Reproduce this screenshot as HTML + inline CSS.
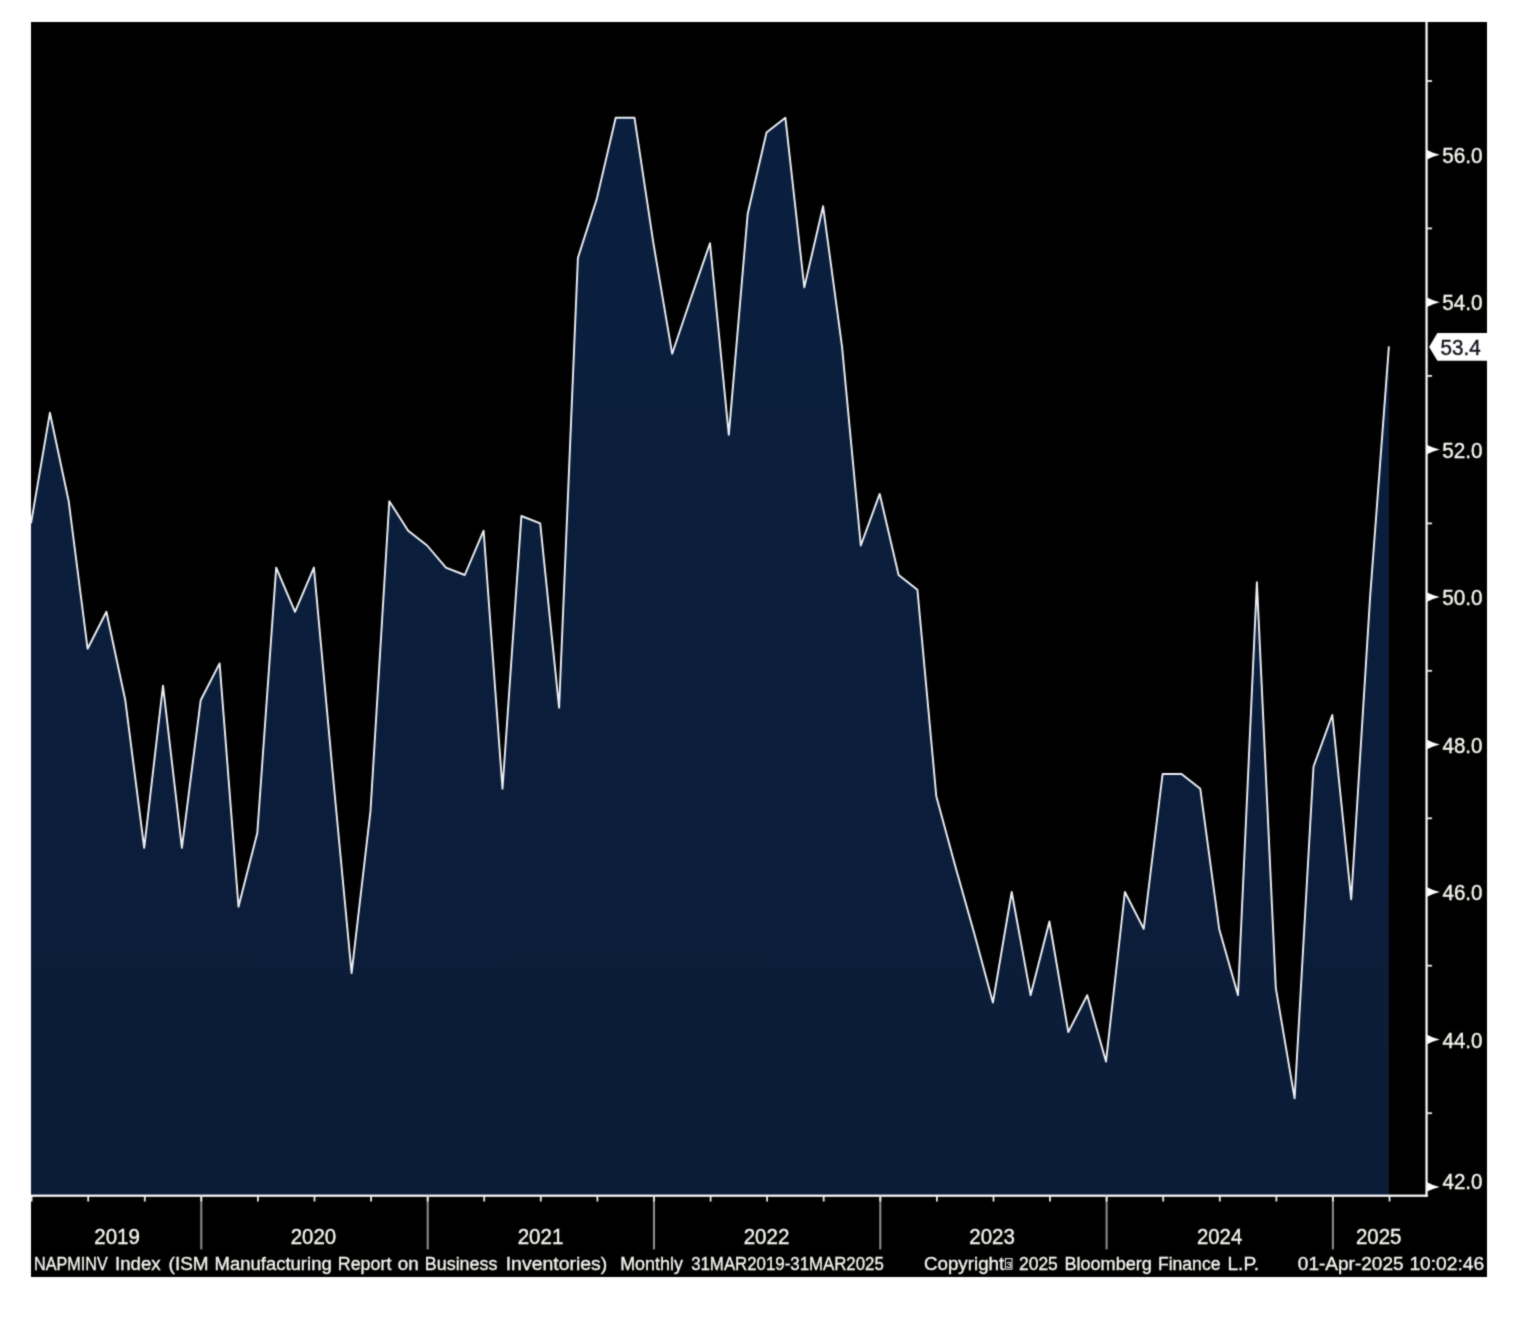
<!DOCTYPE html>
<html><head><meta charset="utf-8"><title>NAPMINV Index</title>
<style>html,body{margin:0;padding:0;background:#fff;}body{width:1534px;height:1318px;overflow:hidden;}svg{display:block;}text{font-family:"Liberation Sans",sans-serif;}</style></head><body>
<svg width="1534" height="1318" viewBox="0 0 1534 1318">
<defs><filter id="bl" x="0" y="0" width="100%" height="100%" filterUnits="objectBoundingBox" color-interpolation-filters="sRGB"><feConvolveMatrix order="3" kernelMatrix="0.02768 0.11101 0.02768 0.11101 0.44521 0.11101 0.02768 0.11101 0.02768" divisor="1" edgeMode="duplicate" preserveAlpha="false"/></filter><linearGradient id="g" x1="0" y1="0" x2="0" y2="1"><stop offset="0" stop-color="#0a1f3e"/><stop offset="1" stop-color="#0b1c38"/></linearGradient></defs>
<g filter="url(#bl)">
<rect x="0" y="0" width="1534" height="1318" fill="#ffffff"/>
<rect x="31" y="22" width="1456" height="1255" fill="#000000"/>
<polygon points="31.0,1195.7 31.0,523.4 49.9,412.8 68.7,501.2 87.6,648.7 106.4,611.8 125.3,700.3 144.2,847.8 163.0,685.6 181.9,847.8 200.7,700.3 219.6,663.4 238.5,906.7 257.3,833.0 276.2,567.6 295.0,611.8 313.9,567.6 332.8,774.0 351.6,973.1 370.5,810.9 389.3,501.2 408.2,530.7 427.1,545.5 445.9,567.6 464.8,575.0 483.6,530.7 502.5,788.8 521.4,516.0 540.2,523.4 559.1,707.7 577.9,257.9 596.8,198.9 615.7,117.8 634.5,117.8 653.4,243.2 672.2,353.8 691.1,297.7 710.0,243.2 728.8,434.9 747.7,213.7 766.5,132.6 785.4,117.8 804.3,287.4 823.1,206.3 842.0,346.4 860.8,545.5 879.7,493.9 898.6,575.0 917.4,589.7 936.3,796.2 955.1,865.5 974.0,932.6 992.9,1002.6 1011.7,892.0 1030.6,995.2 1049.4,921.5 1068.3,1032.1 1087.2,995.2 1106.0,1061.6 1124.9,892.0 1143.7,928.9 1162.6,774.0 1181.5,774.0 1200.3,788.8 1219.2,928.9 1238.0,995.2 1256.9,582.3 1275.8,987.8 1294.6,1098.4 1313.5,766.7 1332.3,715.0 1351.2,899.4 1370.1,597.1 1388.9,346.4 1388.9,1195.7" fill="url(#g)"/>
<polyline points="31.0,523.4 49.9,412.8 68.7,501.2 87.6,648.7 106.4,611.8 125.3,700.3 144.2,847.8 163.0,685.6 181.9,847.8 200.7,700.3 219.6,663.4 238.5,906.7 257.3,833.0 276.2,567.6 295.0,611.8 313.9,567.6 332.8,774.0 351.6,973.1 370.5,810.9 389.3,501.2 408.2,530.7 427.1,545.5 445.9,567.6 464.8,575.0 483.6,530.7 502.5,788.8 521.4,516.0 540.2,523.4 559.1,707.7 577.9,257.9 596.8,198.9 615.7,117.8 634.5,117.8 653.4,243.2 672.2,353.8 691.1,297.7 710.0,243.2 728.8,434.9 747.7,213.7 766.5,132.6 785.4,117.8 804.3,287.4 823.1,206.3 842.0,346.4 860.8,545.5 879.7,493.9 898.6,575.0 917.4,589.7 936.3,796.2 955.1,865.5 974.0,932.6 992.9,1002.6 1011.7,892.0 1030.6,995.2 1049.4,921.5 1068.3,1032.1 1087.2,995.2 1106.0,1061.6 1124.9,892.0 1143.7,928.9 1162.6,774.0 1181.5,774.0 1200.3,788.8 1219.2,928.9 1238.0,995.2 1256.9,582.3 1275.8,987.8 1294.6,1098.4 1313.5,766.7 1332.3,715.0 1351.2,899.4 1370.1,597.1 1388.9,346.4" fill="none" stroke="#eef1f6" stroke-width="1.9" stroke-linejoin="round"/>
<rect x="31" y="1194.60" width="1396.65" height="2.2" fill="#ffffff"/>
<rect x="1425.45" y="22" width="2.2" height="1174.80" fill="#ffffff"/>
<rect x="30.7" y="1195.7" width="1.8" height="5.8" fill="#eeeeee"/>
<rect x="87.3" y="1195.7" width="1.8" height="5.8" fill="#eeeeee"/>
<rect x="143.9" y="1195.7" width="1.8" height="5.8" fill="#eeeeee"/>
<rect x="200.3" y="1195.7" width="2" height="53.7" fill="#909090"/>
<rect x="200.4" y="1195.7" width="1.8" height="5.8" fill="#eeeeee"/>
<rect x="257.0" y="1195.7" width="1.8" height="5.8" fill="#eeeeee"/>
<rect x="313.6" y="1195.7" width="1.8" height="5.8" fill="#eeeeee"/>
<rect x="370.2" y="1195.7" width="1.8" height="5.8" fill="#eeeeee"/>
<rect x="426.7" y="1195.7" width="2" height="53.7" fill="#909090"/>
<rect x="426.8" y="1195.7" width="1.8" height="5.8" fill="#eeeeee"/>
<rect x="483.3" y="1195.7" width="1.8" height="5.8" fill="#eeeeee"/>
<rect x="539.9" y="1195.7" width="1.8" height="5.8" fill="#eeeeee"/>
<rect x="596.5" y="1195.7" width="1.8" height="5.8" fill="#eeeeee"/>
<rect x="653.0" y="1195.7" width="2" height="53.7" fill="#909090"/>
<rect x="653.1" y="1195.7" width="1.8" height="5.8" fill="#eeeeee"/>
<rect x="709.7" y="1195.7" width="1.8" height="5.8" fill="#eeeeee"/>
<rect x="766.2" y="1195.7" width="1.8" height="5.8" fill="#eeeeee"/>
<rect x="822.8" y="1195.7" width="1.8" height="5.8" fill="#eeeeee"/>
<rect x="879.3" y="1195.7" width="2" height="53.7" fill="#909090"/>
<rect x="879.4" y="1195.7" width="1.8" height="5.8" fill="#eeeeee"/>
<rect x="936.0" y="1195.7" width="1.8" height="5.8" fill="#eeeeee"/>
<rect x="992.6" y="1195.7" width="1.8" height="5.8" fill="#eeeeee"/>
<rect x="1049.1" y="1195.7" width="1.8" height="5.8" fill="#eeeeee"/>
<rect x="1105.6" y="1195.7" width="2" height="53.7" fill="#909090"/>
<rect x="1105.7" y="1195.7" width="1.8" height="5.8" fill="#eeeeee"/>
<rect x="1162.3" y="1195.7" width="1.8" height="5.8" fill="#eeeeee"/>
<rect x="1218.9" y="1195.7" width="1.8" height="5.8" fill="#eeeeee"/>
<rect x="1275.5" y="1195.7" width="1.8" height="5.8" fill="#eeeeee"/>
<rect x="1331.9" y="1195.7" width="2" height="53.7" fill="#909090"/>
<rect x="1332.0" y="1195.7" width="1.8" height="5.8" fill="#eeeeee"/>
<rect x="1388.6" y="1195.7" width="1.8" height="5.8" fill="#eeeeee"/>
<polygon points="1427.15,1182.2 1433.05,1184.9 1439.75,1186.9 1433.05,1188.9 1427.15,1191.6" fill="#ffffff"/>
<text x="1442.54" y="1189.3" font-size="21.8" fill="#f6f4ee" stroke="#f6f4ee" stroke-width="0.4" textLength="39.96" lengthAdjust="spacingAndGlyphs">42.0</text>
<rect x="1426.55" y="1112.3" width="5.5" height="1.8" fill="#e8e8e8"/>
<polygon points="1427.15,1034.8 1433.05,1037.5 1439.75,1039.5 1433.05,1041.5 1427.15,1044.2" fill="#ffffff"/>
<text x="1442.54" y="1047.7" font-size="21.8" fill="#f6f4ee" stroke="#f6f4ee" stroke-width="0.4" textLength="39.96" lengthAdjust="spacingAndGlyphs">44.0</text>
<rect x="1426.55" y="964.8" width="5.5" height="1.8" fill="#e8e8e8"/>
<polygon points="1427.15,887.3 1433.05,890.0 1439.75,892.0 1433.05,894.0 1427.15,896.7" fill="#ffffff"/>
<text x="1442.54" y="900.2" font-size="21.8" fill="#f6f4ee" stroke="#f6f4ee" stroke-width="0.4" textLength="39.96" lengthAdjust="spacingAndGlyphs">46.0</text>
<rect x="1426.55" y="817.4" width="5.5" height="1.8" fill="#e8e8e8"/>
<polygon points="1427.15,739.8 1433.05,742.5 1439.75,744.5 1433.05,746.5 1427.15,749.2" fill="#ffffff"/>
<text x="1442.54" y="752.7" font-size="21.8" fill="#f6f4ee" stroke="#f6f4ee" stroke-width="0.4" textLength="39.96" lengthAdjust="spacingAndGlyphs">48.0</text>
<rect x="1426.55" y="669.9" width="5.5" height="1.8" fill="#e8e8e8"/>
<polygon points="1427.15,592.4 1433.05,595.1 1439.75,597.1 1433.05,599.1 1427.15,601.8" fill="#ffffff"/>
<text x="1442.17" y="605.3" font-size="21.8" fill="#f6f4ee" stroke="#f6f4ee" stroke-width="0.4" textLength="40.33" lengthAdjust="spacingAndGlyphs">50.0</text>
<rect x="1426.55" y="522.5" width="5.5" height="1.8" fill="#e8e8e8"/>
<polygon points="1427.15,444.9 1433.05,447.6 1439.75,449.6 1433.05,451.6 1427.15,454.3" fill="#ffffff"/>
<text x="1442.17" y="457.8" font-size="21.8" fill="#f6f4ee" stroke="#f6f4ee" stroke-width="0.4" textLength="40.33" lengthAdjust="spacingAndGlyphs">52.0</text>
<rect x="1426.55" y="375.0" width="5.5" height="1.8" fill="#e8e8e8"/>
<polygon points="1427.15,297.5 1433.05,300.2 1439.75,302.2 1433.05,304.2 1427.15,306.9" fill="#ffffff"/>
<text x="1442.17" y="310.4" font-size="21.8" fill="#f6f4ee" stroke="#f6f4ee" stroke-width="0.4" textLength="40.33" lengthAdjust="spacingAndGlyphs">54.0</text>
<rect x="1426.55" y="227.5" width="5.5" height="1.8" fill="#e8e8e8"/>
<polygon points="1427.15,150.0 1433.05,152.7 1439.75,154.7 1433.05,156.7 1427.15,159.4" fill="#ffffff"/>
<text x="1442.17" y="162.9" font-size="21.8" fill="#f6f4ee" stroke="#f6f4ee" stroke-width="0.4" textLength="40.33" lengthAdjust="spacingAndGlyphs">56.0</text>
<rect x="1426.55" y="80.1" width="5.5" height="1.8" fill="#e8e8e8"/>
<polygon points="1429.1,346.9 1437.4,333.1 1487,333.1 1487,360.7 1437.4,360.7" fill="#ffffff"/>
<text x="1440.58" y="355.3" font-size="21.8" fill="#101218" stroke="#101218" stroke-width="0.4" textLength="40.12" lengthAdjust="spacingAndGlyphs">53.4</text>
<text x="94.28" y="1244.4" font-size="22.0" fill="#f6f4ee" stroke="#f6f4ee" stroke-width="0.4" textLength="45.59" lengthAdjust="spacingAndGlyphs">2019</text>
<text x="290.68" y="1244.4" font-size="22.0" fill="#f6f4ee" stroke="#f6f4ee" stroke-width="0.4" textLength="45.43" lengthAdjust="spacingAndGlyphs">2020</text>
<text x="517.67" y="1244.4" font-size="22.0" fill="#f6f4ee" stroke="#f6f4ee" stroke-width="0.4" textLength="45.65" lengthAdjust="spacingAndGlyphs">2021</text>
<text x="743.67" y="1244.4" font-size="22.0" fill="#f6f4ee" stroke="#f6f4ee" stroke-width="0.4" textLength="45.70" lengthAdjust="spacingAndGlyphs">2022</text>
<text x="969.28" y="1244.4" font-size="22.0" fill="#f6f4ee" stroke="#f6f4ee" stroke-width="0.4" textLength="45.54" lengthAdjust="spacingAndGlyphs">2023</text>
<text x="1196.98" y="1244.4" font-size="22.0" fill="#f6f4ee" stroke="#f6f4ee" stroke-width="0.4" textLength="45.22" lengthAdjust="spacingAndGlyphs">2024</text>
<text x="1355.98" y="1244.4" font-size="22.0" fill="#f6f4ee" stroke="#f6f4ee" stroke-width="0.4" textLength="45.48" lengthAdjust="spacingAndGlyphs">2025</text>
<text x="34.07" y="1270.2" font-size="18.0" fill="#f4f4f0" stroke="#f4f4f0" stroke-width="0.33" textLength="73.59" lengthAdjust="spacingAndGlyphs">NAPMINV</text>
<text x="115.07" y="1270.2" font-size="18.0" fill="#f4f4f0" stroke="#f4f4f0" stroke-width="0.33" textLength="45.64" lengthAdjust="spacingAndGlyphs">Index</text>
<text x="168.61" y="1270.2" font-size="18.0" fill="#f4f4f0" stroke="#f4f4f0" stroke-width="0.33" textLength="40.07" lengthAdjust="spacingAndGlyphs">(ISM</text>
<text x="214.58" y="1270.2" font-size="18.0" fill="#f4f4f0" stroke="#f4f4f0" stroke-width="0.33" textLength="117.12" lengthAdjust="spacingAndGlyphs">Manufacturing</text>
<text x="337.83" y="1270.2" font-size="18.0" fill="#f4f4f0" stroke="#f4f4f0" stroke-width="0.33" textLength="53.53" lengthAdjust="spacingAndGlyphs">Report</text>
<text x="397.80" y="1270.2" font-size="18.0" fill="#f4f4f0" stroke="#f4f4f0" stroke-width="0.33" textLength="20.97" lengthAdjust="spacingAndGlyphs">on</text>
<text x="424.82" y="1270.2" font-size="18.0" fill="#f4f4f0" stroke="#f4f4f0" stroke-width="0.33" textLength="72.61" lengthAdjust="spacingAndGlyphs">Business</text>
<text x="505.70" y="1270.2" font-size="18.0" fill="#f4f4f0" stroke="#f4f4f0" stroke-width="0.33" textLength="101.61" lengthAdjust="spacingAndGlyphs">Inventories)</text>
<text x="620.23" y="1270.2" font-size="18.0" fill="#f4f4f0" stroke="#f4f4f0" stroke-width="0.33" textLength="62.60" lengthAdjust="spacingAndGlyphs">Monthly</text>
<text x="691.17" y="1270.2" font-size="18.0" fill="#f4f4f0" stroke="#f4f4f0" stroke-width="0.33" textLength="192.63" lengthAdjust="spacingAndGlyphs">31MAR2019-31MAR2025</text>
<text x="923.96" y="1270.2" font-size="18.0" fill="#f4f4f0" stroke="#f4f4f0" stroke-width="0.33" textLength="80.28" lengthAdjust="spacingAndGlyphs">Copyright</text>
<text x="1018.93" y="1270.2" font-size="18.0" fill="#f4f4f0" stroke="#f4f4f0" stroke-width="0.33" textLength="38.91" lengthAdjust="spacingAndGlyphs">2025</text>
<text x="1064.41" y="1270.2" font-size="18.0" fill="#f4f4f0" stroke="#f4f4f0" stroke-width="0.33" textLength="87.44" lengthAdjust="spacingAndGlyphs">Bloomberg</text>
<text x="1157.95" y="1270.2" font-size="18.0" fill="#f4f4f0" stroke="#f4f4f0" stroke-width="0.33" textLength="62.50" lengthAdjust="spacingAndGlyphs">Finance</text>
<text x="1227.41" y="1270.2" font-size="18.0" fill="#f4f4f0" stroke="#f4f4f0" stroke-width="0.33" textLength="31.71" lengthAdjust="spacingAndGlyphs">L.P.</text>
<text x="1297.84" y="1270.2" font-size="18.0" fill="#f4f4f0" stroke="#f4f4f0" stroke-width="0.33" textLength="105.75" lengthAdjust="spacingAndGlyphs">01-Apr-2025</text>
<text x="1409.46" y="1270.2" font-size="18.0" fill="#f4f4f0" stroke="#f4f4f0" stroke-width="0.33" textLength="74.66" lengthAdjust="spacingAndGlyphs">10:02:46</text>
<rect x="1005.4" y="1258.6" width="6.6" height="10.6" fill="none" stroke="#e4e4e4" stroke-width="1.1"/>
<text x="1006.6" y="1267.6" font-size="9" fill="#e8e8e8" stroke="#e8e8e8" stroke-width="0.3">3</text>
</g></svg></body></html>
